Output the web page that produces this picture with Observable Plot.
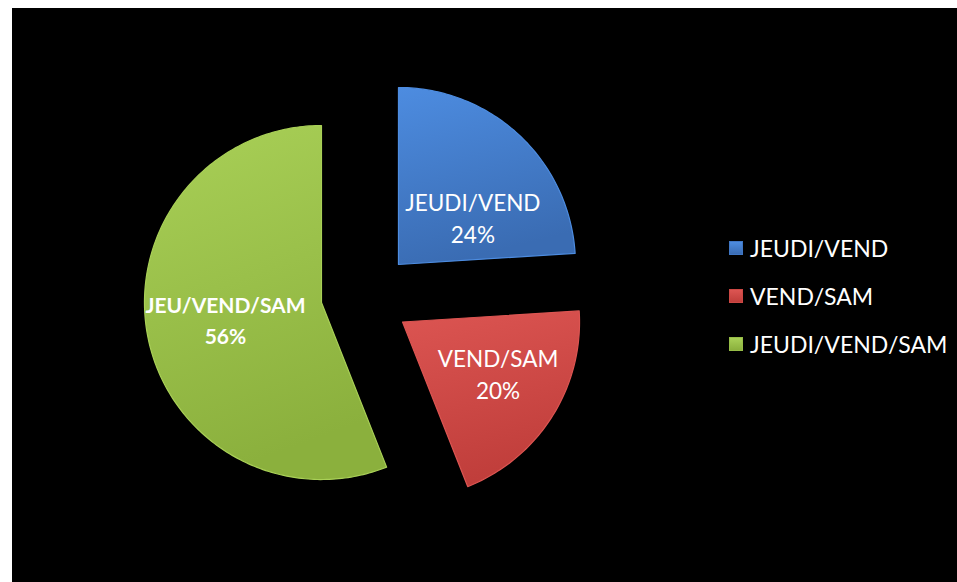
<!DOCTYPE html>
<html><head><meta charset="utf-8">
<script src="https://cdn.jsdelivr.net/npm/d3@7"></script>
<script src="https://cdn.jsdelivr.net/npm/@observablehq/plot@0.6"></script>
<style>
body{margin:0;background:#fff;width:957px;height:582px;overflow:hidden;position:relative;font-family:Lato,sans-serif}
#frame{position:absolute;left:12px;top:8px;width:945px;height:574px;background:#000}
#chart{position:absolute;left:0;top:0}
#legend{position:absolute;left:729px;top:224px;color:#fff;font-size:23px;font-family:Lato,sans-serif}
.row{display:flex;align-items:center;height:48px;white-space:nowrap}
.sw{width:14px;height:14px;margin-right:7px;box-sizing:border-box}
</style></head><body>
<div id="frame"></div><div id="chart"></div><div id="legend"></div>
<script>
// ---- data ----
const categories = ["JEUDI/VEND", "VEND/SAM", "JEUDI/VEND/SAM"];
const sliceLabels = ["JEUDI/VEND", "VEND/SAM", "JEU/VEND/SAM"];
const shares = [24, 20, 56];

// ---- styles / layout ----
const colorsTop = ["#4d8ce0", "#dc5552", "#a9d057"];
const colorsBottom = ["#3a6cb3", "#c03e3b", "#8bb03d"];
const legendColors = ["#3f76c4", "#cc4844", "#97bd47"];
const W = 957, H = 582, R = 177, CX = 370, CY = 290;
// explode offsets (in pie-radius units, y up)
const explode = [[0.158, 0.147], [0.181, -0.178], [-0.277, -0.068]];
const labelRadius = [0.5, 0.61, 0.55];
const labelAngleShift = [14, -4.6, 1.3];
const labelBold = [false, false, true];

const total = d3.sum(shares);
let acc = 0;
const slices = shares.map((v, i) => {
  const a0 = acc / total * 360; acc += v; const a1 = acc / total * 360;
  return {i, a0, a1, ox: explode[i][0], oy: explode[i][1]};
});
const rad = a => a * Math.PI / 180;
function slicePoints(s) {
  const pts = [{x: s.ox, y: s.oy}];
  const n = Math.ceil(s.a1 - s.a0);
  for (let k = 0; k <= n; k++) {
    const a = s.a0 + (s.a1 - s.a0) * k / n;
    pts.push({x: s.ox + Math.sin(rad(a)), y: s.oy + Math.cos(rad(a))});
  }
  pts.push({x: s.ox, y: s.oy});
  return pts;
}
const labelData = slices.map(s => {
  const a = (s.a0 + s.a1) / 2 + labelAngleShift[s.i];
  const r = labelRadius[s.i];
  return {x: s.ox + r * Math.sin(rad(a)), y: s.oy + r * Math.cos(rad(a)),
          text: sliceLabels[s.i] + "\n" + shares[s.i] + "%", bold: labelBold[s.i]};
});

const marks = [];
slices.forEach(s => {
  marks.push(Plot.line(slicePoints(s), {x: "x", y: "y", fill: `url(#grad${s.i})`,
    stroke: colorsTop[s.i], strokeWidth: 1.2, strokeLinejoin: "round"}));
});
marks.push(Plot.text(labelData.filter(d => !d.bold), {x: "x", y: "y", text: "text",
  fill: "white", fontSize: 22.5, fontFamily: "Lato", lineHeight: 1.42}));
marks.push(Plot.text(labelData.filter(d => d.bold), {x: "x", y: "y", text: "text",
  fill: "white", fontSize: 21, fontFamily: "Lato", fontWeight: "bold", lineHeight: 1.5}));

const chart = Plot.plot({
  width: W, height: H,
  margin: 0,
  x: {domain: [-CX / R, (W - CX) / R], axis: null},
  y: {domain: [(CY - H) / R, CY / R], axis: null},
  style: {background: "transparent", overflow: "visible"},
  marks
});
const ns = "http://www.w3.org/2000/svg";
const defs = document.createElementNS(ns, "defs");
slices.forEach(s => {
  const g = document.createElementNS(ns, "linearGradient");
  g.setAttribute("id", `grad${s.i}`);
  g.setAttribute("x1", "0"); g.setAttribute("y1", "0");
  g.setAttribute("x2", "0.25"); g.setAttribute("y2", "1");
  [[0, colorsTop[s.i]], [1, colorsBottom[s.i]]].forEach(([o, c]) => {
    const st = document.createElementNS(ns, "stop");
    st.setAttribute("offset", o); st.setAttribute("stop-color", c);
    g.appendChild(st);
  });
  defs.appendChild(g);
});
chart.insertBefore(defs, chart.firstChild);
document.getElementById("chart").appendChild(chart);

const legend = document.getElementById("legend");
categories.forEach((c, i) => {
  const row = document.createElement("div"); row.className = "row";
  const sw = document.createElement("div"); sw.className = "sw";
  sw.style.background = `linear-gradient(180deg, ${colorsTop[i]}, ${colorsBottom[i]})`;
  sw.style.border = `1px solid ${legendColors[i]}`;
  const t = document.createElement("span"); t.textContent = c;
  row.appendChild(sw); row.appendChild(t); legend.appendChild(row);
});
</script>
</body></html>
